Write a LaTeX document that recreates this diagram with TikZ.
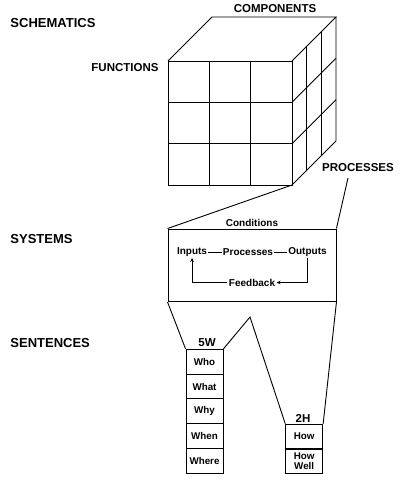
\documentclass[tikz,border=0pt]{standalone}
\usepackage{fontspec}
\setmainfont{Liberation Sans}
\usetikzlibrary{arrows.meta}
\tikzset{
  level/.style={font=\bfseries\fontsize{13}{15}\selectfont, anchor=west, inner sep=0pt},
  axis/.style={font=\bfseries\fontsize{11.5}{13}\selectfont, inner sep=0pt},
  flow/.style={font=\bfseries\fontsize{10}{12}\selectfont, inner sep=1pt},
  cell/.style={draw, minimum width=37pt, minimum height=24.8pt, font=\bfseries\fontsize{9.8}{10.5}\selectfont, align=center, inner sep=0pt},
}
\begin{document}
\begin{tikzpicture}[x=1pt, y=-1pt, line width=0.9pt]
\useasboundingbox (0,0) rectangle (400,481);
% level labels
\node[level] (sch) at (10,23) {SCHEMATICS};
\node[level] (sys) at (10,239) {SYSTEMS};
\node[level] (sen) at (10,343) {SENTENCES};
% cube
\draw (168,61) rectangle (292,185);
\foreach \x in {209.3,250.7} \draw (\x,61) -- (\x,185);
\foreach \y in {102.3,143.7} \draw (168,\y) -- (292,\y);
\draw (168,61) -- (212,17) -- (336,17) -- (292,61);
\draw (336,17) -- (336,141) -- (292,185);
\foreach \x/\y in {306.7/46.3,321.3/31.7} \draw (\x,\y) -- (\x,\y+124);
\foreach \y in {102.3,143.7} \draw (292,\y) -- (336,\y-44);
\coordinate (cube) at (292,185);
\node[axis] (comp) at (275,9) {COMPONENTS};
\node[axis] (func) at (125,68) {FUNCTIONS};
\node[axis] (proc) at (358,168) {PROCESSES};
\coordinate (pt) at (348,178);
% systems
\node[draw, minimum width=168pt, minimum height=72.7pt, inner sep=0pt] (box) at (252,265.3) {};
\node[flow] (cond) at (252,223) {Conditions};
\node[flow] (in) at (192,252) {Inputs};
\node[flow] (pr) at (248,252) {Processes};
\node[flow] (out) at (307.5,252) {Outputs};
\node[flow] (fb) at (252,282.5) {Feedback};
\draw (in) -- (pr);
\draw (pr) -- (out);
\draw[-{Stealth[length=4pt,width=3.5pt]}] (out.south) |- (fb.east);
\draw[-{Stealth[length=4pt,width=3.5pt]}] (fb.west) -| (in.south);
\draw (cube) -- (box.north west);
\draw (pt) -- (box.north east);
% sentences
\node[cell] (who) at (204.5,361.7) {Who};
\node[cell] (what) at (204.5,386.5) {What};
\node[cell] (why) at (204.5,411.3) {Why};
\node[cell] (when) at (204.5,436.1) {When};
\node[cell] (where) at (204.5,460.9) {Where};
\node[axis] (w5) at (207,343) {5W};
\node[cell] (how) at (304.2,436.6) {How};
\node[cell] (well) at (304.2,461.3) {How\\Well};
\node[axis] (h2) at (303,418) {2H};
\coordinate (apex) at (250,317);
\draw (box.south west) -- (who.north west);
\draw (box.south east) -- (how.north east);
\draw (who.north east) -- (apex) -- (how.north west);
\end{tikzpicture}
\end{document}
